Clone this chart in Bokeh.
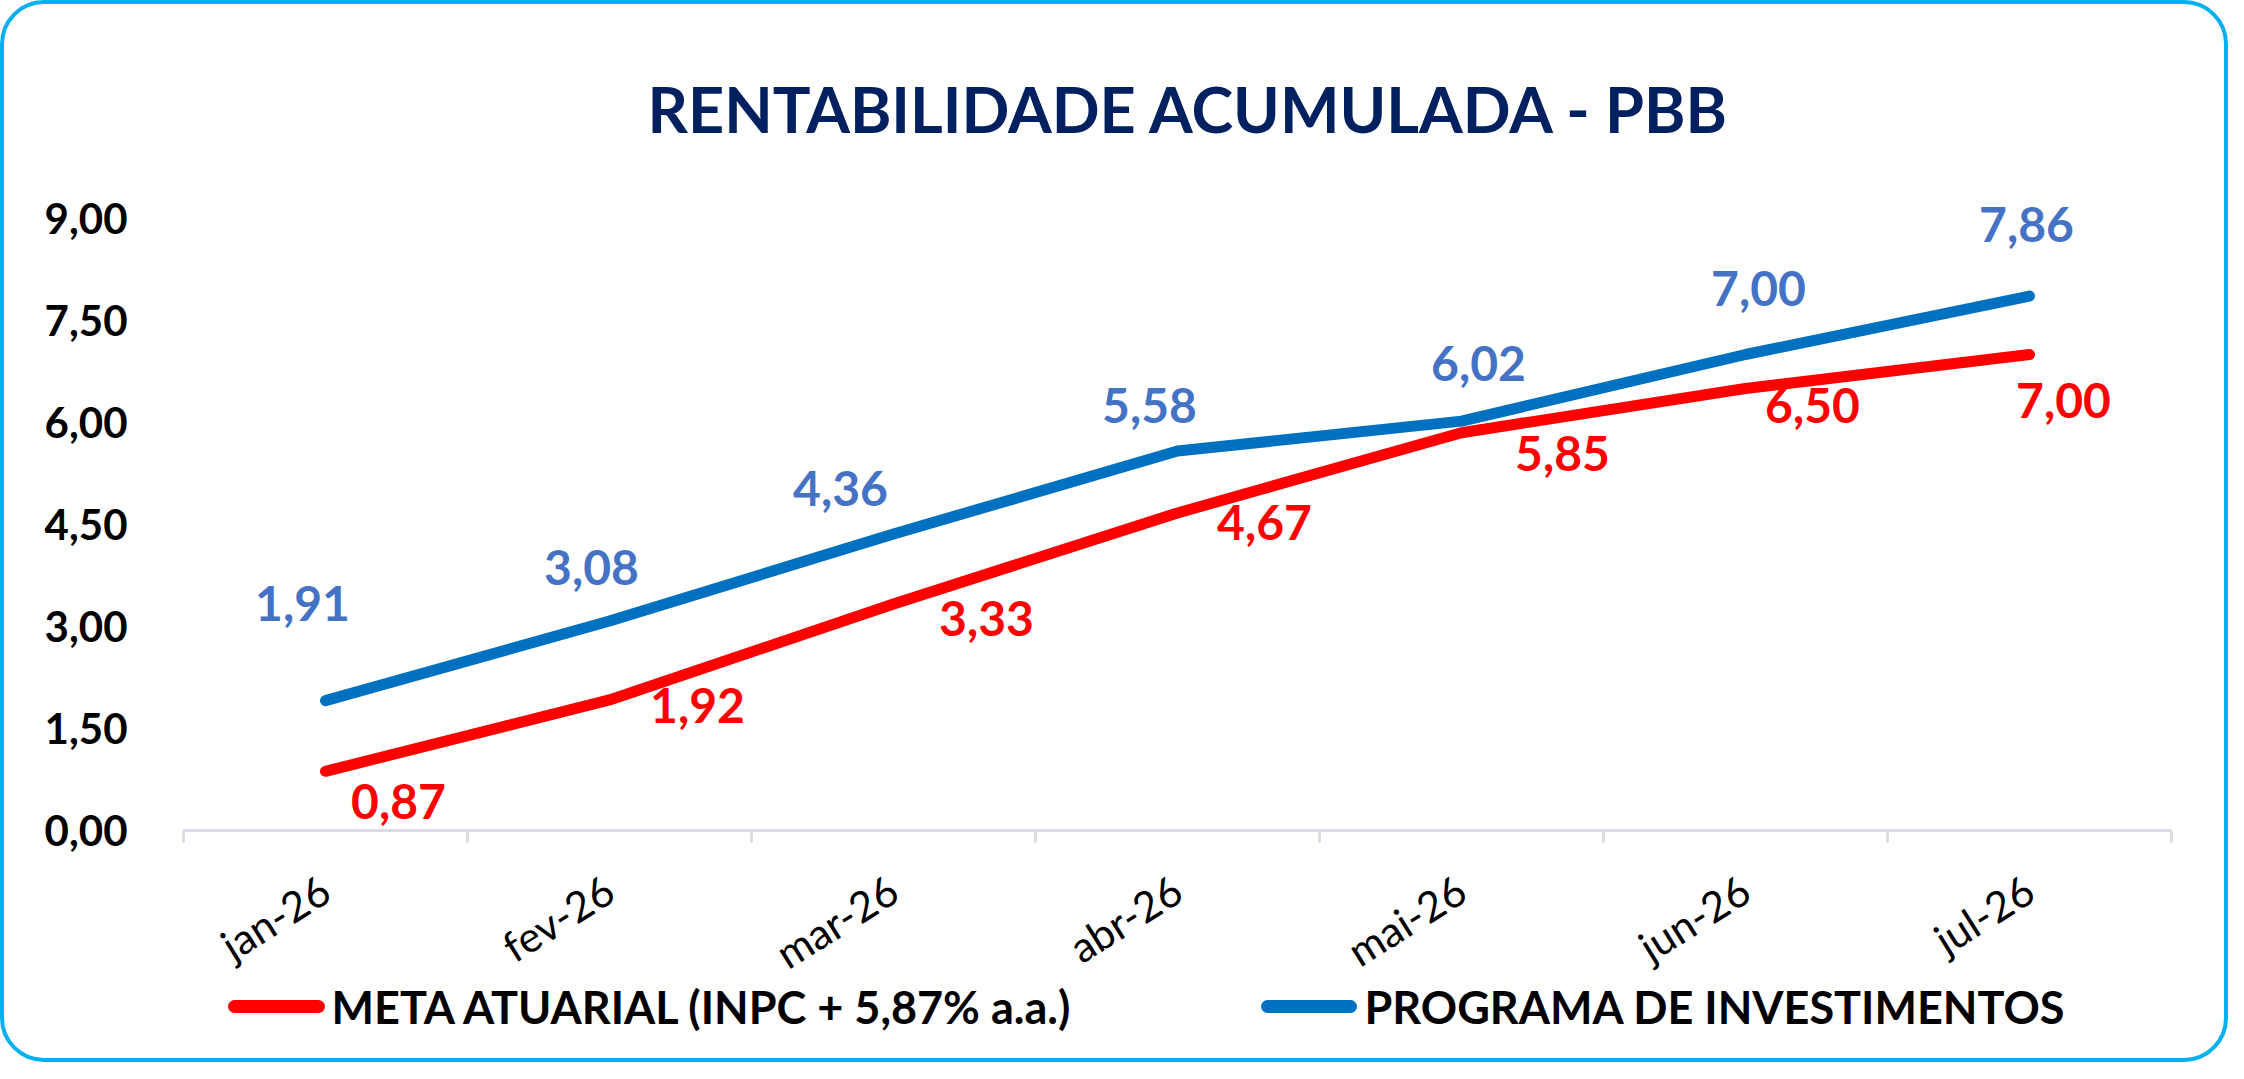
from bokeh.plotting import figure
from bokeh.layouts import column
from bokeh.models import Range1d, FixedTicker, ColumnDataSource
from bokeh.core.properties import value
from bokeh.embed import file_html
from bokeh.resources import INLINE

# ---- data ----
months = ["jan-26", "fev-26", "mar-26", "abr-26", "mai-26", "jun-26", "jul-26"]
meta = [0.87, 1.92, 3.33, 4.67, 5.85, 6.50, 7.00]
programa = [1.91, 3.08, 4.36, 5.58, 6.02, 7.00, 7.86]
y_ticks = [0, 1.5, 3, 4.5, 6, 7.5, 9]
title_text = "RENTABILIDADE ACUMULADA - PBB"
meta_name = "META ATUARIAL (INPC + 5,87% a.a.)"
prog_name = "PROGRAMA DE INVESTIMENTOS"

# data-label offsets in screen pixels (x right, y down)
prog_dx = [-23, -18, -53, -28, 17, 13, -3]
prog_dy = [-97, -54, -46, -46, -58, -66, -72]
meta_dx = [73, 88, 93, 87, 101, 67, 34]
meta_dy = [30, 6, 14, 10, 21, 17, 46]

FONT = "Lato"
RED = "#FF0000"
BLUE = "#0070C0"
AXIS_COL = "#D9DDE3"
W = 2228
H_TOTAL = 1062
FL, FR = 183, 2171          # frame left / right in canvas px
FRAME_TOP, FRAME_BOT = 184, 830
H_MAIN = FRAME_BOT + 25
H_BOT = H_TOTAL - H_MAIN


def fmt(v):
    return f"{v:.2f}".replace(".", ",")


n = len(months)
xs = [i + 0.5 for i in range(n)]

p = figure(width=W, height=H_MAIN,
           x_range=Range1d(0, n), y_range=Range1d(0, 9.5),
           output_backend="svg", toolbar_location=None,
           min_border_left=FL, min_border_right=W - FR,
           min_border_top=FRAME_TOP, min_border_bottom=H_MAIN - FRAME_BOT)
p.background_fill_color = "white"
p.border_fill_color = "white"
p.outline_line_color = None
p.grid.visible = False

# title
p.title.text = title_text
p.title.align = "left"
p.title.offset = 464
p.title.standoff = 77
p.title.text_font = FONT
p.title.text_font_style = "bold"
p.title.text_font_size = "63px"
p.title.text_color = "#002060"

# x axis: line and boundary ticks (category labels drawn in the strip below)
xa = p.xaxis[0]
xa.ticker = FixedTicker(ticks=xs, minor_ticks=list(range(n + 1)))
xa.major_label_overrides = {x: "" for x in xs}
xa.major_label_text_font_size = "1px"
xa.major_label_standoff = 0
xa.major_tick_line_color = None
xa.major_tick_out = 0
xa.major_tick_in = 0
xa.minor_tick_line_color = AXIS_COL
xa.minor_tick_line_width = 3
xa.minor_tick_out = 12
xa.minor_tick_in = 0
xa.axis_line_color = AXIS_COL
xa.axis_line_width = 3

# y axis
ya = p.yaxis[0]
ya.ticker = FixedTicker(ticks=y_ticks)
ya.major_label_overrides = {t: fmt(t) for t in y_ticks}
ya.axis_line_color = None
ya.major_tick_line_color = None
ya.minor_tick_line_color = None
ya.major_tick_out = 0
ya.major_label_standoff = 56
ya.major_label_text_font = FONT
ya.major_label_text_font_style = "bold"
ya.major_label_text_font_size = "42px"
ya.major_label_text_color = "black"

# lines
p.line(xs, meta, line_color=RED, line_width=11, line_cap="round", line_join="round")
p.line(xs, programa, line_color=BLUE, line_width=11, line_cap="round", line_join="round")

# data labels
src_p = ColumnDataSource(dict(x=xs, y=programa, t=[fmt(v) for v in programa],
                              dx=prog_dx, dy=prog_dy))
src_m = ColumnDataSource(dict(x=xs, y=meta, t=[fmt(v) for v in meta],
                              dx=meta_dx, dy=meta_dy))
for src, col in ((src_p, "#4472C4"), (src_m, RED)):
    p.text(x="x", y="y", text="t", x_offset="dx", y_offset="dy", source=src,
           text_font=value(FONT), text_font_style="bold", text_font_size="48px",
           text_color=col, text_align="center", text_baseline="middle")

# bottom strip: category labels + legend (frame aligned with the main frame)
b = figure(width=W, height=H_BOT, x_range=Range1d(0, n), y_range=Range1d(0, H_BOT),
           output_backend="svg", toolbar_location=None,
           x_axis_type=None, y_axis_type=None,
           min_border_left=FL, min_border_right=W - FR,
           min_border_top=0, min_border_bottom=0)
b.extra_x_ranges = {"px": Range1d(FL, FR)}
b.background_fill_color = "white"
b.border_fill_color = "white"
b.outline_line_color = None
b.grid.visible = False

# category labels, rotated, ending under each category centre
lab_y = H_BOT - (885 - H_MAIN)
b.text(x=xs, y=[lab_y] * n, text=months, angle=0.56,
       text_font=value(FONT), text_font_size="42px", text_color="black",
       text_align="right", text_baseline="middle")

# legend
leg_names = [meta_name, prog_name]
leg_colors = [RED, BLUE]
sw_x0 = [234, 1267]
sw_x1 = [318, 1350]
txt_x = [331, 1364]
leg_y = H_BOT - (1006 - H_MAIN)
b.segment(x0=sw_x0, y0=[leg_y] * 2, x1=sw_x1, y1=[leg_y] * 2, x_range_name="px",
          line_color=leg_colors, line_width=13, line_cap="round")
b.text(x=txt_x, y=[leg_y] * 2, text=leg_names, x_range_name="px",
       text_font=value(FONT), text_font_style="bold", text_font_size="45px",
       text_color="black", text_align="left", text_baseline="middle")

layout = column(p, b)
layout.stylesheets = [
    ":host { position: relative; }",
    ":host::after { content: ''; position: absolute; left: 0; top: 0; right: 0; bottom: 0;"
    " border: 4px solid #00B0F0; border-radius: 44px; box-sizing: border-box;"
    " pointer-events: none; z-index: 10; }",
]

open("out.html", "w").write(file_html(layout, INLINE, title="Rentabilidade Acumulada - PBB"))
